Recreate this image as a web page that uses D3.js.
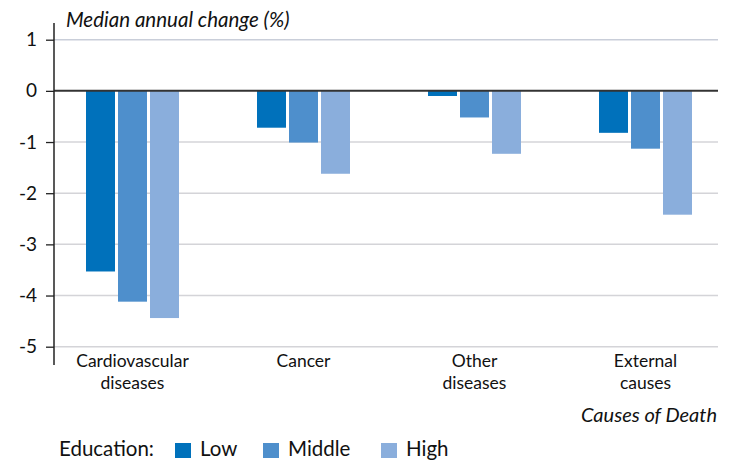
<!DOCTYPE html>
<html><head><meta charset="utf-8">
<script src="https://cdn.jsdelivr.net/npm/d3@7"></script>
<style>
body{margin:0;background:#fff;}
svg{display:block;font-family:Lato,"Open Sans",sans-serif;}
</style></head>
<body><svg id="c" width="736" height="461"></svg>
<script>
const categories = [["Cardiovascular","diseases"],["Cancer"],["Other","diseases"],["External","causes"]];
const seriesNames = ["Low","Middle","High"];
const low = [-3.53,-0.72,-0.10,-0.82];
const middle = [-4.12,-1.01,-0.52,-1.13];
const high = [-4.44,-1.62,-1.23,-2.42];
const yTicks = [1,0,-1,-2,-3,-4,-5];
const colors = ["#0071bb","#4e8fcc","#8aaedc"];
const values = [low, middle, high];

const svg = d3.select("#c");
const x = d3.scaleBand().domain(d3.range(categories.length)).range([47,731]);
const y = d3.scaleLinear().domain([-5,1]).range([346.7,39.7]);
const barW = 29, gap = 3;

// grid
svg.append("g").selectAll("line").data(yTicks.filter(d=>d!==0)).join("line")
  .attr("x1",54).attr("x2",718).attr("y1",d=>y(d)).attr("y2",d=>y(d))
  .attr("stroke",d=>d>0?"#c9ced9":"#d4d4d8").attr("stroke-width",1.5);

// bars
seriesNames.forEach((s,i)=>{
  svg.append("g").selectAll("rect").data(values[i]).join("rect")
    .attr("x",(d,j)=>x(j)+x.bandwidth()/2-46.5+i*(barW+gap))
    .attr("width",barW)
    .attr("y",d=>y(Math.max(0,d)))
    .attr("height",d=>Math.abs(y(d)-y(0)))
    .attr("fill",colors[i]);
});

// zero line
svg.append("line").attr("x1",54).attr("x2",718).attr("y1",y(0)).attr("y2",y(0))
  .attr("stroke","#333").attr("stroke-width",2);

// y axis
const yAxis = d3.axisLeft(y).tickValues(yTicks).tickSize(8).tickPadding(9).tickFormat(d=>String(d));
const ga = svg.append("g").attr("transform","translate(54,0)").call(yAxis);
ga.select(".domain").remove();
ga.selectAll(".tick line").attr("stroke","#222").attr("stroke-width",1.3);
ga.selectAll(".tick text").attr("font-size",19).attr("fill","#111").attr("font-family","Lato,sans-serif");
svg.append("line").attr("x1",54).attr("x2",54).attr("y1",23).attr("y2",365).attr("stroke","#222").attr("stroke-width",1.5);

// y title
svg.append("text").attr("x",66).attr("y",27).attr("font-size",20.5).attr("font-style","italic").attr("fill","#111")
  .text("Median annual change (%)");

// category labels
const cl = svg.append("g").selectAll("text").data(categories).join("text")
  .attr("x",(d,j)=>x(j)+x.bandwidth()/2).attr("y",367).attr("text-anchor","middle")
  .attr("font-size",17.5).attr("fill","#111");
cl.selectAll("tspan").data(d=>d).join("tspan")
  .attr("x",function(){return this.parentNode.getAttribute("x");})
  .attr("dy",(d,k)=>k===0?0:22).text(d=>d);

// x title
svg.append("text").attr("x",717).attr("y",422).attr("text-anchor","end").attr("font-size",20).attr("font-style","italic").attr("fill","#111")
  .text("Causes of Death");

// legend
const lg = svg.append("g").attr("font-size",20.5).attr("fill","#111");
lg.append("text").attr("x",59).attr("y",456).text("Education:");
const legX = [175,263,381];
seriesNames.forEach((s,i)=>{
  lg.append("rect").attr("x",legX[i]).attr("y",443).attr("width",16).attr("height",15).attr("fill",colors[i]);
  lg.append("text").attr("x",legX[i]+25).attr("y",456).text(s);
});
</script></body></html>
